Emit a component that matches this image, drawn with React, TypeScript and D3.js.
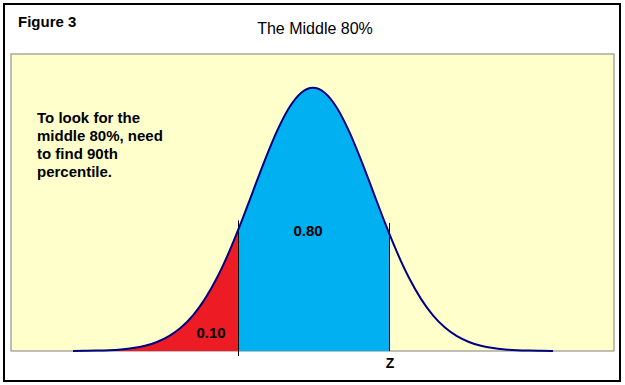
import React from "react";
import * as d3 from "d3";

const zValues = [-4.0, -3.8, -3.6, -3.4, -3.2, -3.0, -2.8, -2.6, -2.4, -2.2, -2.0, -1.8, -1.6, -1.4, -1.25, -1.2, -1.0, -0.8, -0.6, -0.4, -0.2, 0.0, 0.2, 0.4, 0.6, 0.8, 1.0, 1.2, 1.27, 1.4, 1.6, 1.8, 2.0, 2.2, 2.4, 2.6, 2.8, 3.0, 3.2, 3.4, 3.6, 3.8, 4.0];
const density = [0.0001, 0.0003, 0.0006, 0.0012, 0.0024, 0.0044, 0.0079, 0.0136, 0.0224, 0.0355, 0.054, 0.079, 0.1109, 0.1497, 0.1826, 0.1942, 0.242, 0.2897, 0.3332, 0.3683, 0.391, 0.3989, 0.391, 0.3683, 0.3332, 0.2897, 0.242, 0.1942, 0.1781, 0.1497, 0.1109, 0.079, 0.054, 0.0355, 0.0224, 0.0136, 0.0079, 0.0044, 0.0024, 0.0012, 0.0006, 0.0003, 0.0001];
const cutLow = -1.25;
const cutHigh = 1.27;
const cutLowTop = 0.198;
const cutHighTop = 0.194;
const xDomain = [-5.033, 5.017];
const yDomain = [0, 0.45];
const titleText = "The Middle 80%";
const figureLabel = "Figure 3";
const noteLines = ["To look for the", "middle 80%, need", "to find 90th", "percentile."];
const middleLabel = "0.80";
const tailLabel = "0.10";
const axisLabel = "Z";

export default function App() {
  const W = 625, H = 385;
  const plot = { x0: 11, x1: 614, y0: 54, y1: 351 };
  const x = d3.scaleLinear().domain(xDomain).range([plot.x0, plot.x1]);
  const y = d3.scaleLinear().domain(yDomain).range([plot.y1, plot.y0]);
  const pts = zValues.map((z, i) => ({ z, d: density[i] }));
  const redPts = pts.filter((p) => p.z <= cutLow);
  const bluePts = pts.filter((p) => p.z >= cutLow && p.z <= cutHigh);
  const area = d3.area<{ z: number; d: number }>()
    .x((p) => x(p.z)).y0(y(0)).y1((p) => y(p.d)).curve(d3.curveMonotoneX);
  const line = d3.line<{ z: number; d: number }>()
    .x((p) => x(p.z)).y((p) => y(p.d)).curve(d3.curveMonotoneX);
  const font = "Arial, 'Liberation Sans', sans-serif";
  return (
    <svg width={W} height={H} style={{ position: "absolute", left: 0, top: 0 }}>
      <rect x={0} y={0} width={W} height={H} fill="#ffffff" />
      <rect x={4} y={4} width={616} height={377} fill="#ffffff" stroke="#000" strokeWidth={2} />
      <rect x={plot.x0} y={plot.y0} width={plot.x1 - plot.x0} height={plot.y1 - plot.y0} fill="#ffffcc" stroke="#808080" strokeWidth={1} />
      <path d={area(redPts) || ""} fill="#ed1c24" />
      <path d={area(bluePts) || ""} fill="#00b0f0" />
      <line x1={Math.round(x(cutLow)) + 0.5} x2={Math.round(x(cutLow)) + 0.5} y1={y(cutLowTop)} y2={y(0) + 5} stroke="#000" strokeWidth={1} />
      <line x1={Math.round(x(cutHigh)) + 0.5} x2={Math.round(x(cutHigh)) + 0.5} y1={y(cutHighTop)} y2={y(0)} stroke="#000" strokeWidth={1} />
      <path d={line(pts) || ""} fill="none" stroke="#000080" strokeWidth={2} />
      <text x={18} y={27} fontFamily={font} fontWeight="bold" fontSize={15} fill="#000">{figureLabel}</text>
      <text x={315} y={34} fontFamily={font} fontSize={16} textAnchor="middle" fill="#000">{titleText}</text>
      {noteLines.map((t, i) => (
        <text key={i} x={37} y={123 + i * 18} fontFamily={font} fontWeight="bold" fontSize={15} fill="#000">{t}</text>
      ))}
      <text x={308} y={236} fontFamily={font} fontWeight="bold" fontSize={15} textAnchor="middle" fill="#000">{middleLabel}</text>
      <text x={211} y={338} fontFamily={font} fontWeight="bold" fontSize={15} textAnchor="middle" fill="#000">{tailLabel}</text>
      <text x={390} y={368} fontFamily={font} fontWeight="bold" fontSize={14} textAnchor="middle" fill="#000">{axisLabel}</text>
    </svg>
  );
}
